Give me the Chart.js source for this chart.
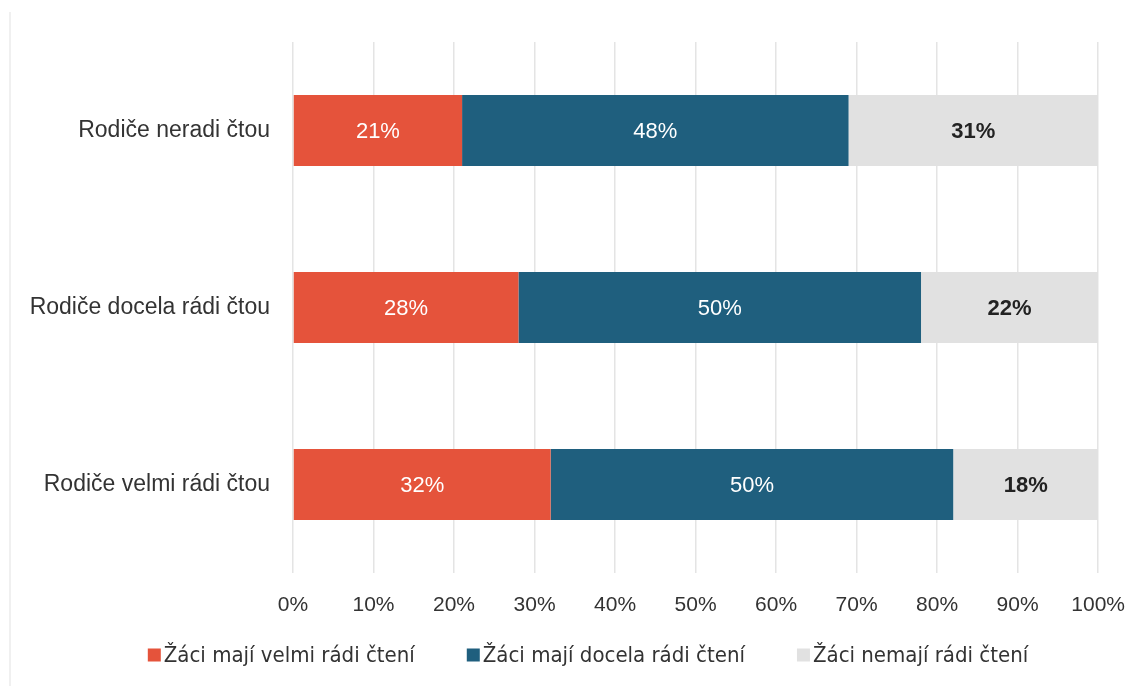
<!DOCTYPE html>
<html>
<head>
<meta charset="utf-8">
<script src="https://cdn.jsdelivr.net/npm/chart.js@4"></script>
<style>
    html, body { margin: 0; padding: 0; background: #fff; }
    #wrap { position: relative; width: 1145px; height: 686px; }
    #wrap:before { content: ''; position: absolute; left: 9px; top: 12px; bottom: 0; border-left: 2px solid #f0f0f0; }
</style>
</head>
<body>
<div id="wrap"><canvas id="grafCteni" width="1145" height="686"></canvas></div>
<script>
// data
const kategorie = ['Rodiče neradi čtou', 'Rodiče docela rádi čtou', 'Rodiče velmi rádi čtou'];
const velmiRadi = [21, 28, 32];
const docelaRadi = [48, 50, 50];
const nemajiRadi = [31, 22, 18];
const nazvySerii = ['Žáci mají velmi rádi čtení', 'Žáci mají docela rádi čtení', 'Žáci nemají rádi čtení'];
const barvy = ['#e5533b', '#1f5f7e', '#e1e1e1'];
const xTicks = [0, 10, 20, 30, 40, 50, 60, 70, 80, 90, 100];

// popisky hodnot uvnitr sloupcu
const popiskyPlugin = {
    id: 'popisky',
    afterDatasetsDraw(chart) {
        const ctx = chart.ctx;
        ctx.save();
        ctx.textAlign = 'center';
        ctx.textBaseline = 'middle';
        chart.data.datasets.forEach(function(ds, i) {
            const meta = chart.getDatasetMeta(i);
            meta.data.forEach(function(bar, j) {
                const x = (bar.x + bar.base) / 2;
                if (i === 2) {
                    ctx.fillStyle = '#222222';
                    ctx.font = 'bold 22px "Liberation Sans", Arial, sans-serif';
                } else {
                    ctx.fillStyle = '#ffffff';
                    ctx.font = '22px "Liberation Sans", Arial, sans-serif';
                }
                ctx.fillText(ds.data[j] + '%', x, bar.y + 1);
            });
        });
        ctx.restore();
    }
};

// legenda dole (ctverecek tesne u textu)
const legendaPlugin = {
    id: 'legenda',
    afterDraw(chart) {
        const ctx = chart.ctx;
        const box = 13, mezera = 3, rozestup = 52, stred = 588, y = 655;
        ctx.save();
        ctx.font = '22px "DejaVu Sans Condensed", "Liberation Sans", sans-serif';
        ctx.textBaseline = 'middle';
        const sirky = chart.data.datasets.map(ds => ctx.measureText(ds.label).width);
        let celkem = 0;
        sirky.forEach(w => { celkem += box + mezera + w; });
        celkem += rozestup * (sirky.length - 1);
        let x = stred - celkem / 2;
        chart.data.datasets.forEach(function(ds, i) {
            ctx.fillStyle = ds.backgroundColor;
            ctx.fillRect(x, y - box / 2, box, box);
            ctx.fillStyle = '#333333';
            ctx.fillText(ds.label, x + box + mezera, y + 1);
            x += box + mezera + sirky[i] + rozestup;
        });
        ctx.restore();
    }
};

document.addEventListener('DOMContentLoaded', function() {
    const ctx = document.getElementById('grafCteni').getContext('2d');
    const data = {
        labels: kategorie,
        datasets: [
            { label: nazvySerii[0], data: velmiRadi, backgroundColor: barvy[0] },
            { label: nazvySerii[1], data: docelaRadi, backgroundColor: barvy[1] },
            { label: nazvySerii[2], data: nemajiRadi, backgroundColor: barvy[2] }
        ]
    };
    const config = {
        type: 'bar',
        data: data,
        options: {
            indexAxis: 'y',
            responsive: false,
            animation: false,
            layout: { padding: { left: 0, right: 43, top: 42, bottom: 68 } },
            datasets: { bar: { barPercentage: 0.4, categoryPercentage: 1 } },
            scales: {
                x: {
                    stacked: true,
                    min: 0,
                    max: 100,
                    afterBuildTicks: function(scale) {
                        scale.ticks = xTicks.map(v => ({ value: v }));
                    },
                    afterFit: function(scale) { scale.height = 45; },
                    ticks: {
                        callback: v => v + '%',
                        color: '#333333',
                        padding: 20,
                        font: { family: 'Liberation Sans', size: 21 }
                    },
                    grid: { color: '#e4e4e4', lineWidth: 1.5, drawTicks: false },
                    border: { display: false }
                },
                y: {
                    stacked: true,
                    afterFit: function(scale) { scale.width = 293; },
                    ticks: {
                        color: '#333333',
                        padding: 15,
                        font: { family: 'Liberation Sans', size: 23 }
                    },
                    grid: { display: false },
                    border: { display: false }
                }
            },
            plugins: {
                legend: { display: false },
                tooltip: { enabled: false }
            }
        },
        plugins: [popiskyPlugin, legendaPlugin]
    };
    new Chart(ctx, config);
});
</script>
</body>
</html>
